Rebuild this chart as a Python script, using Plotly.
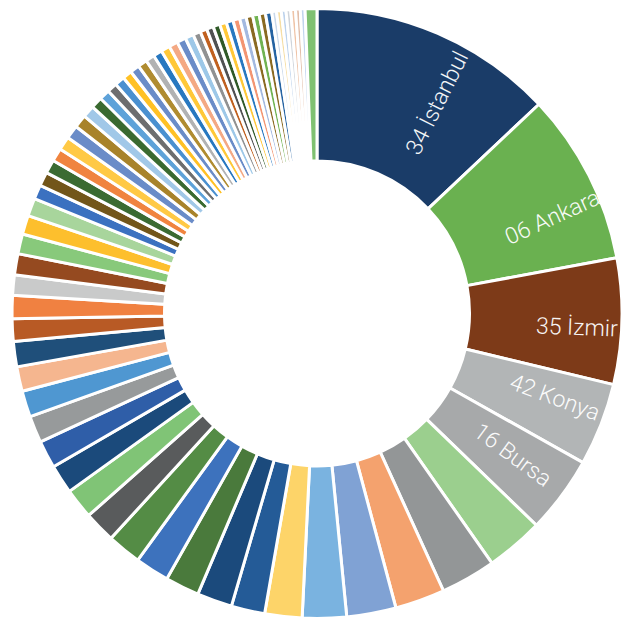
import math
import plotly.graph_objects as go

# Slice labels (only the five largest provinces are named on the ring)
names = ["34 İstanbul", "06 Ankara", "35 İzmir", "42 Konya", "16 Bursa"]

# Slice sizes, largest first, with the unattributed remainder last
shares = [
    46.7, 32.8, 24.0, 15.8, 14.7, 11.0, 10.5, 9.5, 9.4, 8.4,
    7.1, 6.4, 6.7, 6.5, 6.5, 6.5, 6.0, 5.8, 5.5, 5.3,
    5.1, 5.0, 4.7, 4.8, 4.3, 4.4, 3.9, 4.0, 3.8, 3.6,
    3.4, 2.7, 2.7, 2.6, 2.5, 2.6, 2.6, 2.5, 2.3, 2.2,
    2.0, 1.9, 1.9, 1.8, 1.8, 1.75, 1.7, 1.7, 1.7, 1.7,
    1.7, 1.6, 1.45, 1.3, 1.3, 1.3, 1.3, 1.3, 1.3, 1.25,
    1.25, 1.25, 1.2, 1.2, 0.9, 0.9, 0.9, 0.9, 0.9, 0.9,
    0.9, 2.25,
]

colors = [
    "#1a3c68", "#6ab150", "#7d3a18", "#b2b5b6", "#a7a9aa", "#9bcf8e", "#939697", "#f4a26e", "#80a2d4", "#7ab3e0",
    "#fdd469", "#245b97", "#1b4a7c", "#4a7a3c", "#3d72bd", "#548c45", "#595b5c", "#80c476", "#1b4a7b", "#2f5ea8",
    "#979a9b", "#4f97d1", "#f5b68f", "#1f4f7a", "#b85a25", "#f08141", "#c9caca", "#954a20", "#88c97b", "#fdbf2d",
    "#a8d59c", "#3b71c0", "#72561a", "#3b6b32", "#f0843f", "#ffc945", "#6a8cc8", "#a8832a", "#a1c8e8", "#3a6a30",
    "#5ea2d9", "#6d6e6f", "#4a90d0", "#ffc125", "#6a8cc8", "#b08c30", "#b1b2b3", "#2878c0", "#ffc838", "#f4a984",
    "#6a8cc8", "#9dc8e8", "#909192", "#c0601f", "#505152", "#305a28", "#ffc838", "#2878c0", "#f39572", "#a3b9e0",
    "#8a6a22", "#70b352", "#8a6a22", "#2563a2", "#c9d8ea", "#f6dea4", "#bcd2ec", "#cfd4da", "#efc3a6", "#e2bea9",
    "#c0d4ee", "#7fc172",
]

W, H = 622, 623
DOM_X = [0.0193, 1.0]
DOM_Y = [0.0074, 0.9865]
HOLE = 0.5
FONT_SIZE = 23

# Label placement: angular nudge (degrees) from each slice's mid-angle and distance from the centre (px)
LABEL_NUDGE = [6.3, 4.8, 1.5, -2.0, -0.8]
LABEL_RADIUS = [242, 254, 260, 252, 242]

fig = go.Figure(
    go.Pie(
        values=shares,
        textinfo="none",
        marker=dict(colors=colors, line=dict(color="white", width=3)),
        hole=HOLE,
        sort=False,
        direction="clockwise",
        rotation=0,
        hoverinfo="none",
        showlegend=False,
        domain=dict(x=DOM_X, y=DOM_Y),
    )
)

# Radial labels for the named slices
cx = (DOM_X[0] + DOM_X[1]) / 2 * W
cy = (1 - (DOM_Y[0] + DOM_Y[1]) / 2) * H
total = sum(shares)
cum = 0.0
for i, v in enumerate(shares):
    if i < len(names):
        mid = 360.0 * (cum + v / 2) / total
        t = math.radians(mid + LABEL_NUDGE[i])
        r = LABEL_RADIUS[i]
        px = cx + r * math.sin(t)
        py = cy - r * math.cos(t)
        fig.add_annotation(
            x=px / W,
            y=1 - py / H,
            xref="paper",
            yref="paper",
            text=names[i],
            showarrow=False,
            textangle=mid + LABEL_NUDGE[i] / 2 - 90,
            xanchor="center",
            yanchor="middle",
            font=dict(family="Roboto", size=FONT_SIZE, color="white", weight=300),
            opacity=0.95,
        )
    cum += v

fig.update_layout(
    width=W,
    height=H,
    margin=dict(l=0, r=0, t=0, b=0),
    paper_bgcolor="white",
    plot_bgcolor="white",
    showlegend=False,
)

fig.write_html("out.html")
